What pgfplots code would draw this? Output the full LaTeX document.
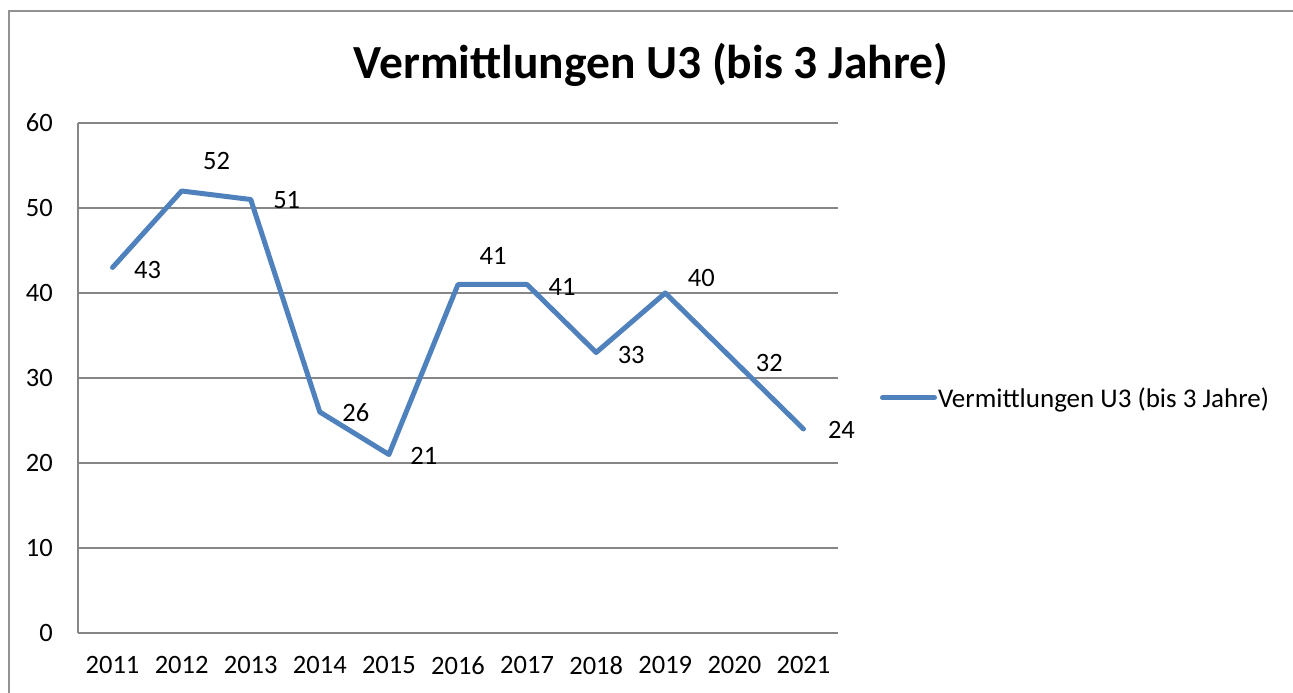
\documentclass[border=0pt]{standalone}
\usepackage{pgfplots}
\pgfplotsset{compat=1.18}
\usepackage{pgfplotstable}
\usepackage{fontspec}
\setmainfont{Carlito}
\definecolor{exblue}{HTML}{4F81BD}
\definecolor{exgrid}{HTML}{868686}
\pgfplotstableread{
x val dx dy
0 43 35 -2
1 52 35 30
2 51 36 -1
3 26 36 -1
4 21 35 -1
5 41 35 29
6 41 35 -2
7 33 35 -2
8 40 36 15
9 32 35 -2
10 24 38 -1
}\datatab
\begin{document}
\begin{tikzpicture}
\useasboundingbox (0pt,0pt) rectangle (1293pt,693pt);
\draw[exgrid!90, line width=1.5pt] (9pt,-20pt) -- (9pt,682pt) -- (1310pt,682pt);
\node[font=\fontsize{47.5}{54}\selectfont\bfseries] at (651pt,628pt) {Vermittlungen U3 (bis 3 Jahre)};
\begin{axis}[
  at={(78pt,60pt)}, anchor=south west,
  scale only axis, width=760pt, height=510pt,
  xmin=-0.5, xmax=10.5, ymin=0, ymax=60,
  xtick={0,...,10},
  xticklabels={2011,2012,2013,2014,2015,2016,2017,2018,2019,2020,2021},
  ytick={0,10,...,60},
  /pgf/number format/assume math mode=true,
  ymajorgrids, grid style={exgrid, line width=1.5pt},
  axis x line*=bottom, axis y line*=left,
  axis line style={exgrid, line width=1.5pt, -},
  major tick length=0pt,
  tick style={draw=none},
  every tick label/.append style={font=\fontsize{26.5}{30}\selectfont, inner sep=0pt},
  yticklabel style={anchor=east, xshift=-25pt},
  xticklabel style={anchor=north, yshift=-23pt},
  legend style={draw=none, fill=none, at={(1.055,0.461)}, anchor=west, inner sep=0pt,
    font=\fontsize{27}{30}\selectfont},
  legend image code/.code={\draw[#1] (0pt,0pt) -- (52pt,0pt);},
  legend cell align=left,
  clip=false,
]
\addplot[exblue, line width=5pt, line join=round, line cap=round,
  nodes near coords,
  point meta=explicit,
  visualization depends on={\thisrow{dx} \as \dx},
  visualization depends on={\thisrow{dy} \as \dy},
  every node near coord/.append style={font=\fontsize{26.5}{30}\selectfont, black, anchor=center, xshift=\dx pt, yshift=\dy pt, inner sep=0pt},
] table[x=x, y=val, meta=val] {\datatab};
\addlegendentry{\hspace{-1pt}Vermittlungen U3 (bis 3 Jahre)}
\end{axis}
\end{tikzpicture}
\end{document}
